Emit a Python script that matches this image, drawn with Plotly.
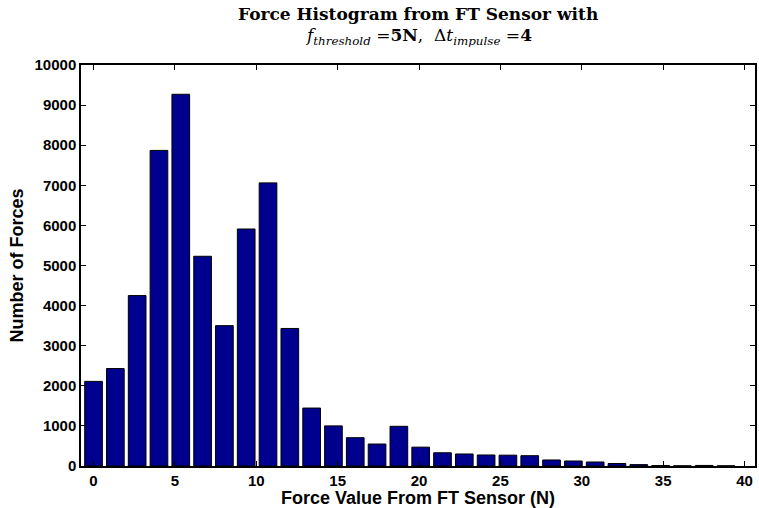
import plotly.graph_objects as go

# Histogram bins: centre of each force bin (N) and its count
bin_centers = [0.00, 1.34, 2.68, 4.02, 5.36, 6.70, 8.04, 9.38, 10.72, 12.06,
               13.40, 14.74, 16.08, 17.42, 18.76, 20.10, 21.44, 22.78, 24.12, 25.46,
               26.80, 28.14, 29.48, 30.82, 32.16, 33.50, 34.84, 36.18, 37.52, 38.86]
force_counts = [2110, 2430, 4250, 7870, 9270, 5230, 3500, 5910, 7060, 3430,
                1445, 1000, 706, 548, 990, 470, 330, 300, 275, 270,
                257, 150, 125, 100, 62, 35, 12, 4, 14, 4]

x_ticks = [0, 5, 10, 15, 20, 25, 30, 35, 40]
y_ticks = [0, 1000, 2000, 3000, 4000, 5000, 6000, 7000, 8000, 9000, 10000]

fig = go.Figure(
    go.Bar(
        x=bin_centers,
        y=force_counts,
        marker=dict(color="#00008F", line=dict(color="black", width=1)),
    )
)

sans = "Liberation Sans, Arial, sans-serif"
serif = "DejaVu Serif, serif"
axis_font = dict(family=sans, size=15, color="black", weight="bold")
label_font = dict(family=sans, size=18, color="black", weight="bold")

title_line1 = "<b>Force Histogram from FT Sensor with</b>"
title_line2 = ("<i>f</i><sub><i>threshold</i></sub> =<b>5N</b>,  "
               "Δ<i>t</i><sub><i>impulse</i></sub> =<b>4</b>")

fig.update_layout(
    width=759,
    height=508,
    margin=dict(l=81, r=2, t=65, b=42),
    plot_bgcolor="white",
    paper_bgcolor="white",
    bargap=0.19,
    showlegend=False,
    annotations=[
        dict(text=title_line1, xref="paper", yref="paper", x=0.5, y=1.127,
             xanchor="center", yanchor="middle", showarrow=False,
             font=dict(family=serif, size=17, color="black")),
        dict(text=title_line2, xref="paper", yref="paper", x=0.5, y=1.070,
             xanchor="center", yanchor="middle", showarrow=False,
             font=dict(family=serif, size=17, color="black")),
    ],
    xaxis=dict(
        range=[-0.77, 40.64],
        tickvals=x_ticks,
        ticks="inside",
        ticklen=5,
        tickcolor="black",
        showline=True,
        linecolor="black",
        linewidth=1.5,
        mirror="ticks",
        showgrid=False,
        zeroline=False,
        tickfont=axis_font,
        title=dict(text="Force Value From FT Sensor (N)", font=label_font, standoff=1),
    ),
    yaxis=dict(
        range=[0, 10000],
        tickvals=y_ticks,
        ticktext=[str(v) for v in y_ticks],
        ticks="inside",
        ticklen=5,
        tickcolor="black",
        showline=True,
        linecolor="black",
        linewidth=1.5,
        mirror="ticks",
        showgrid=False,
        zeroline=False,
        tickfont=axis_font,
        title=dict(text="Number of Forces", font=label_font, standoff=6),
    ),
)

fig.write_html("out.html")
